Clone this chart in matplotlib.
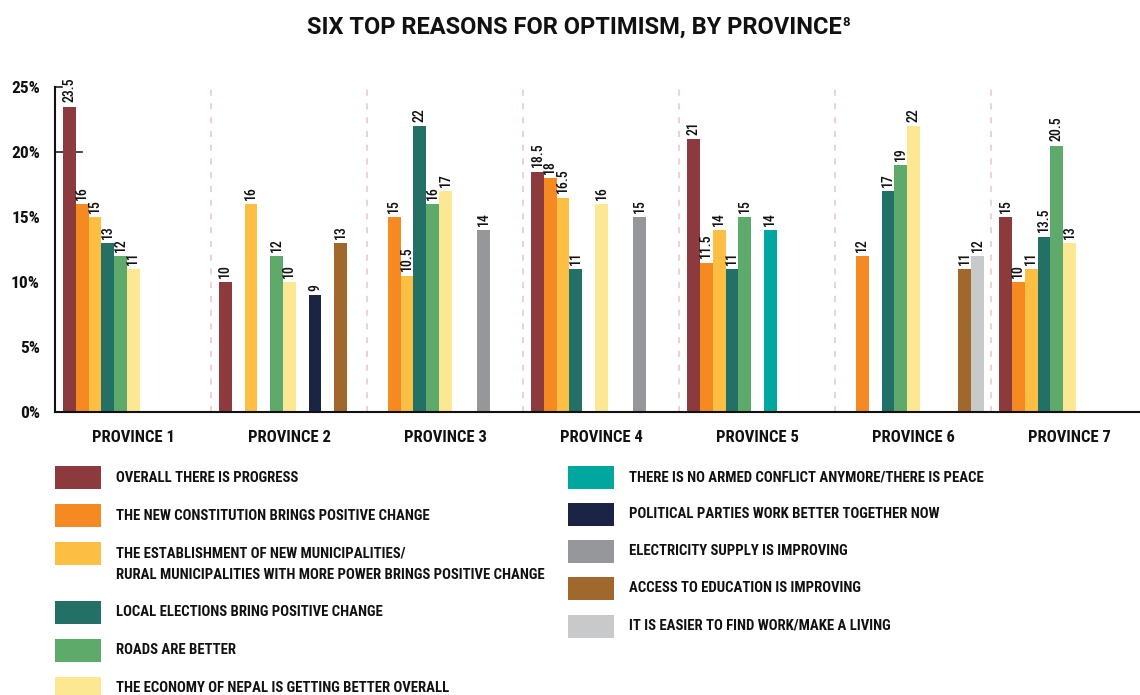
import numpy as np
import matplotlib.pyplot as plt
from matplotlib import font_manager
from matplotlib.patches import Rectangle


def pick_font(candidates):
    # first installed family from the list, else the default sans
    names = {f.name for f in font_manager.fontManager.ttflist}
    for name in candidates:
        if name in names:
            return name
    return 'DejaVu Sans'


FONT = pick_font(['Roboto Condensed', 'Archivo Narrow', 'Liberation Sans Narrow',
                  'Fira Sans Condensed'])
TITLE_FONT = pick_font(['Roboto', 'Liberation Sans'])

provinces = ['PROVINCE 1', 'PROVINCE 2', 'PROVINCE 3', 'PROVINCE 4',
             'PROVINCE 5', 'PROVINCE 6', 'PROVINCE 7']

reasons = [
    'OVERALL THERE IS PROGRESS',
    'THE NEW CONSTITUTION BRINGS POSITIVE CHANGE',
    'THE ESTABLISHMENT OF NEW MUNICIPALITIES/\nRURAL MUNICIPALITIES WITH MORE POWER BRINGS POSITIVE CHANGE',
    'LOCAL ELECTIONS BRING POSITIVE CHANGE',
    'ROADS ARE BETTER',
    'THE ECONOMY OF NEPAL IS GETTING BETTER OVERALL',
    'THERE IS NO ARMED CONFLICT ANYMORE/THERE IS PEACE',
    'POLITICAL PARTIES WORK BETTER TOGETHER NOW',
    'ELECTRICITY SUPPLY IS IMPROVING',
    'ACCESS TO EDUCATION IS IMPROVING',
    'IT IS EASIER TO FIND WORK/MAKE A LIVING',
]

colors = ['#8C3A3D', '#F58A23', '#FDBE44', '#237166', '#5DAA6A', '#FCE793',
          '#00A79E', '#1B2444', '#96979B', '#A1682E', '#C8C9CB']

# share of respondents per reason, one value per province (0 = not in the top six)
overall_progress = [23.5, 10, 0, 18.5, 21, 0, 15]
new_constitution = [16, 0, 15, 18, 11.5, 12, 10]
new_municipalities = [15, 16, 10.5, 16.5, 14, 0, 11]
local_elections = [13, 0, 22, 11, 11, 17, 13.5]
roads_better = [12, 12, 16, 0, 15, 19, 20.5]
economy_better = [11, 10, 17, 16, 0, 22, 13]
no_armed_conflict = [0, 0, 0, 0, 14, 0, 0]
parties_together = [0, 9, 0, 0, 0, 0, 0]
electricity = [0, 0, 14, 15, 0, 0, 0]
education = [0, 13, 0, 0, 0, 11, 0]
easier_work = [0, 0, 0, 0, 0, 12, 0]

series = [overall_progress, new_constitution, new_municipalities, local_elections,
          roads_better, economy_better, no_armed_conflict, parties_together,
          electricity, education, easier_work]

TXT = '#111111'
W, H = 1140, 695
fig = plt.figure(figsize=(W / 100, H / 100), dpi=100)
ax = fig.add_axes([55 / W, 283 / H, 1 - 55 / W, 325 / H])

group_w = 12.19   # width of one province block, in bar widths
offset = 0.625    # empty space before the first bar of each block
group_x = np.arange(len(provinces)) * group_w

for i, (vals, col) in enumerate(zip(series, colors)):
    vals = np.array(vals, dtype=float)
    x = group_x + offset + i + 0.5
    shown = vals > 0
    ax.bar(x[shown], vals[shown], width=1.0, color=col, zorder=2)
    for xi, vi in zip(x[shown], vals[shown]):
        ax.annotate(f'{vi:g}', (xi, vi), xytext=(0, 3), textcoords='offset points',
                    rotation=90, ha='center', va='bottom', fontsize=10,
                    family=FONT, fontweight='medium', color=TXT,
                    annotation_clip=False)

# dashed separators between provinces
ax.vlines(group_x[1:], 0, 25, colors='#E6C6C6', linestyles=(0, (4, 5)),
          linewidth=1.1, zorder=1)

# small marks on the y axis
ax.plot([0, 0.55], [25, 25], color='#222222', lw=1.2, zorder=1, clip_on=False)
ax.plot([0, 2.1], [20, 20], color='#222222', lw=1.2, zorder=1)

ax.set_xlim(0, (W - 55) / 12.8)
ax.set_ylim(0, 25)
ax.set_yticks(range(0, 26, 5))
ax.set_yticklabels([f'{v}%' for v in range(0, 26, 5)], family=FONT,
                   fontsize=12.5, fontweight='bold')
ax.set_xticks(group_x + group_w / 2)
ax.set_xticklabels(provinces, family=FONT, fontsize=12, fontweight='bold')
ax.tick_params(axis='y', length=0, pad=10.8, colors=TXT)
ax.tick_params(axis='x', length=0, pad=13, colors=TXT)
for side in ['top', 'right']:
    ax.spines[side].set_visible(False)
for side in ['left', 'bottom']:
    ax.spines[side].set_linewidth(1.5)
    ax.spines[side].set_color(TXT)

# title with footnote mark
title = fig.text(574 / W, 1 - 27 / H, 'SIX TOP REASONS FOR OPTIMISM, BY PROVINCE',
                 ha='center', va='center', family=TITLE_FONT, fontsize=17,
                 fontweight='bold', color=TXT)
renderer = fig.canvas.get_renderer()
bb = title.get_window_extent(renderer=renderer)
fig.text((bb.x1 + 1) / W, (H - 16) / H, '8', ha='left', va='top',
         family=TITLE_FONT, fontsize=9.5, fontweight='bold', color=TXT)


def fx(px):
    return px / W


def fy(py):
    return 1 - py / H


# legend, two hand placed columns
left_rows = [477.5, 515.5, 553.5, 612.5, 650.5, 688.5]
right_rows = [477.5, 514.5, 551.0, 588.5, 626.0]
columns = [(55, 116, left_rows, range(0, 6)), (568, 629, right_rows, range(6, 11))]
for px0, tx0, rows, idx in columns:
    for yc, k in zip(rows, idx):
        fig.add_artist(Rectangle((fx(px0), fy(yc + 11.5)), 46 / W, 23 / H,
                                 transform=fig.transFigure, color=colors[k], lw=0))
        for j, line in enumerate(reasons[k].split('\n')):
            fig.text(fx(tx0), fy(yc + j * 21.5), line, ha='left', va='center',
                     family=FONT, fontsize=10.6, fontweight='bold', color=TXT)

fig.savefig('out.png', dpi=100)
